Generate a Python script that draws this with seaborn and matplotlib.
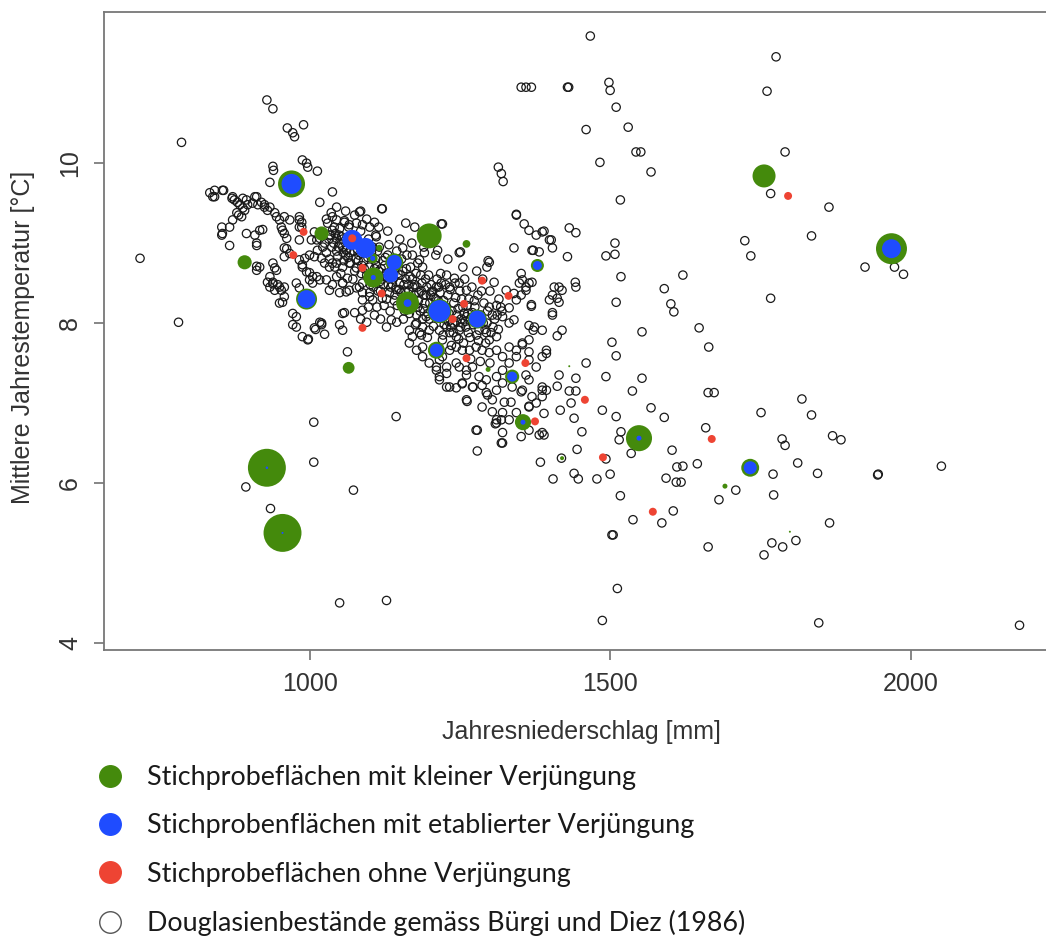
import numpy as np
import pandas as pd
import matplotlib
matplotlib.use("Agg")
import matplotlib.pyplot as plt
import seaborn as sns
from matplotlib.lines import Line2D

# ---------------- data ----------------
# Douglasienbestände (Niederschlag mm, Temperatur °C)
bestaende = [
    (787,10.26),(929,10.79),(939,10.68),(963,10.44),(972,10.38),(975,10.33),(990,10.48),
    (988,10.04),(995,10.00),(997,9.95),(1013,9.90),(939,9.96),(940,9.91),(934,9.76),(1038,9.64),(1017,9.51),
    (718,8.81),(782,8.01),
    (834,9.63),(842,9.66),(857,9.66),(839,9.58),(842,9.58),(855,9.66),
    (872,9.58),(875,9.54),(880,9.51),(889,9.56),(895,9.54),(884,9.48),(889,9.44),(892,9.41),(897,9.48),(905,9.50),
    (912,9.58),(920,9.51),(925,9.48),(914,9.48),(925,9.45),(930,9.41),(871,9.56),(909,9.58),
    (934,9.45),(942,9.38),(945,9.33),(950,9.29),(953,9.20),(955,9.16),(958,9.12),(962,9.06),
    (879,9.38),(887,9.33),(872,9.29),(867,9.20),(882,9.35),
    (895,9.12),(909,9.10),(854,9.20),(855,9.12),(867,8.97),(854,9.10),
    (912,8.97),(917,9.16),(922,9.17),(912,9.00),
    (958,9.33),(967,9.29),(983,9.33),(987,9.26),(983,9.20),(983,9.29),(987,9.20),
    (1008,9.14),(1012,9.04),(1003,9.04),(983,9.04),(1017,9.06),(1025,9.00),
    (962,8.93),(958,8.83),(958,8.94),(967,8.87),
    (939,8.75),(945,8.66),(934,8.58),(939,8.51),(947,8.48),(942,8.69),
    (912,8.66),(917,8.70),(912,8.71),
    (983,8.79),(988,8.70),(995,8.64),(1000,8.54),(1005,8.50),(1012,8.58),(1017,8.54),
    (992,8.81),(988,8.73),(1000,8.63),(1005,8.58),
    (1020,8.81),(1025,8.75),(1038,8.75),
    (930,8.51),(939,8.49),(934,8.45),(942,8.41),(950,8.45),(958,8.45),(978,8.50),(983,8.44),
    (953,8.41),(958,8.33),(955,8.26),(950,8.25),
    (972,8.12),(978,8.08),(972,7.98),(1017,8.01),(1020,7.98),(1008,7.94),(1055,8.12),
    (978,7.95),(988,7.83),(997,7.79),(998,7.80),(1010,7.92),(1020,8.00),(1025,7.86),
    (1000,8.85),(1008,8.83),(1013,8.91),(1022,8.95),(1028,8.88),
    (1033,9.10),(1038,9.16),(1045,9.06),(1050,9.00),(1055,8.95),(1061,8.91),
    (1038,9.33),(1045,9.29),(1058,9.26),(1066,9.23),(1078,9.25),(1088,9.23),(1100,9.20),(1108,9.26),
    (1111,9.08),(1116,8.95),
    (1033,8.70),(1045,8.75),(1055,8.70),(1066,8.75),(1078,8.69),
    (1028,8.54),(1045,8.58),(1055,8.50),(1063,8.56),
    (1033,8.41),(1050,8.38),(1061,8.39),(1078,8.44),(1088,8.38),(1100,8.33),
    (1083,9.39),(1085,9.40),(1120,9.43),(1121,9.43),(1219,9.24),(1221,9.24),(1251,8.89),
    (1030,9.25),(1035,9.10),(1040,9.00),(1045,8.90),(1033,8.80),(1050,9.18),(1055,9.05),(1048,8.95),
    (1060,8.85),(1042,8.70),(1052,8.62),(1028,9.30),(1036,9.38),(1058,9.28),
    (1065,9.20),(1070,9.10),(1078,8.98),(1082,8.85),(1090,8.78),(1068,8.75),(1075,8.65),(1095,8.60),
    (1100,8.70),(1085,9.15),(1098,9.05),(1062,8.92),(1072,8.55),(1088,8.50),(1105,8.95),(1110,9.10),
    (1110,8.80),(1115,8.65),(1120,8.55),(1125,8.72),(1130,8.85),(1135,8.45),(1140,8.62),(1145,8.90),
    (1150,8.50),(1118,8.40),(1128,8.30),(1142,8.35),(1106,8.45),(1132,8.98),(1148,8.75),(1155,8.65),(1112,8.20),
    (1160,8.55),(1165,8.40),(1170,8.30),(1175,8.48),(1180,8.20),(1185,8.60),(1190,8.35),(1195,8.45),
    (1200,8.25),(1158,8.15),(1168,8.70),(1178,8.10),(1188,8.05),(1198,8.60),(1205,8.40),(1162,8.85),(1180,8.75),
    (1210,8.30),(1215,8.45),(1220,8.20),(1225,8.05),(1230,8.35),(1235,7.95),(1240,8.25),(1245,8.10),
    (1250,8.40),(1255,8.20),(1260,7.95),(1212,8.55),(1228,8.60),(1242,8.50),(1258,8.55),(1265,8.30),
    (1270,8.45),(1222,7.85),(1248,7.80),
    (1275,8.20),(1280,8.35),(1285,8.10),(1290,8.25),(1295,8.00),(1300,8.40),(1305,7.95),(1315,8.30),
    (1320,8.15),(1288,8.55),(1278,8.65),(1295,8.70),
    (1045,9.45),(1060,9.40),(1075,9.35),(1095,9.30),(1115,9.20),(1130,9.15),(1150,9.05),(1170,9.00),
    (1190,8.95),(1210,8.85),(1230,8.80),(1255,8.70),(1175,9.20),(1160,9.25),
    (1155,8.94),(1171,8.85),(1183,8.79),(1191,8.88),(1188,8.70),(1213,8.91),(1249,8.88),(1297,8.78),
    (1241,8.56),(1249,8.50),(1261,8.41),(1233,8.45),(1219,8.50),(1211,8.45),(1203,8.39),
    (1032,9.05),(1037,8.95),(1043,9.12),(1047,8.83),(1053,9.08),(1057,8.78),(1063,9.02),(1067,8.88),
    (1073,9.05),(1077,8.80),(1080,8.92),(1087,8.72),(1092,8.95),(1097,8.82),(1102,8.58),(1103,8.88),
    (1108,8.68),(1113,8.90),(1117,8.52),(1122,8.78),(1127,8.62),(1131,8.48),(1137,8.70),(1139,8.55),
    (1144,8.42),(1147,8.62),(1152,8.38),(1153,8.80),(1157,8.48),(1161,8.68),(1163,8.32),(1167,8.58),
    (1172,8.45),(1173,8.22),(1177,8.62),(1182,8.38),(1184,8.15),(1187,8.50),(1192,8.25),(1193,8.55),
    (1197,8.12),(1202,8.48),(1204,8.18),(1207,8.32),(1213,8.08),(1217,8.38),(1218,8.62),(1223,8.28),
    (1226,8.48),(1232,8.12),(1234,8.42),(1238,8.00),(1243,8.32),(1247,8.18),(1252,8.05),(1253,8.30),
    (1257,8.12),(1262,8.22),(1264,7.88),(1268,8.05),(1272,7.98),(1274,8.28),(1278,7.85),(1283,8.02),
    (1286,8.40),(1292,7.92),(1296,8.15),(1302,7.88),(1308,8.05),(1314,7.92),(1318,8.20),(1124,8.22),
    (1134,8.15),(1146,8.22),(1156,8.05),(1166,8.12),(1176,7.98),(1186,7.85),(1196,7.82),(1206,7.96),
    (1236,7.72),(1256,7.75),(1268,7.55),(1284,7.52),(1300,7.50),
    (1041,9.20),(1049,9.10),(1056,8.88),(1064,8.82),(1069,8.98),(1074,8.90),(1081,8.78),(1086,8.62),
    (1091,8.68),(1096,8.90),(1101,8.48),(1107,8.58),(1111,8.72),(1114,8.40),(1119,8.68),(1123,8.48),
    (1126,8.82),(1129,8.58),(1133,8.38),(1138,8.48),(1141,8.28),(1143,8.72),(1149,8.42),(1151,8.60),
    (1154,8.28),(1159,8.40),(1164,8.48),(1169,8.20),(1171,8.55),(1174,8.35),(1179,8.45),(1181,8.28),
    (1186,8.40),(1189,8.18),(1194,8.35),(1199,8.05),(1201,8.35),(1206,8.10),(1209,8.22),(1214,8.28),
    (1219,8.12),(1224,7.98),(1227,8.20),(1231,8.02),(1237,8.15),(1239,7.88),(1244,8.02),(1251,7.95),
    (1259,8.02),(1263,8.12),(1267,7.82),(1273,8.08),(1281,7.78),(1289,8.00),(1293,7.75),(1304,8.10),
    (1098,8.20),(1108,8.10),(1118,8.05),(1128,7.95),(1085,8.05),
    (1038,8.48),(1055,8.50),(1066,8.41),(1083,8.45),(1100,8.38),(1088,8.29),(1105,8.29),(1121,8.31),
    (1058,8.13),(1075,8.13),(1088,8.16),(1095,8.01),(1136,8.04),(1145,8.01),
    (1166,7.91),(1171,7.83),(1183,7.88),(1178,8.00),(1188,7.95),(1194,8.08),(1199,7.91),
    (1216,7.91),(1228,7.95),(1233,7.88),(1244,7.83),(1221,7.79),(1249,7.91),(1254,8.00),(1261,8.08),
    (1271,8.13),(1282,7.91),(1294,7.88),(1299,7.79),(1311,7.83),(1321,8.08),(1332,8.00),
    (1244,7.70),(1254,7.66),(1266,7.66),(1277,7.70),(1287,7.66),(1299,7.63),(1311,7.66),(1321,7.58),
    (1332,7.70),(1344,7.66),(1354,7.75),(1365,7.79),
    (1216,7.54),(1228,7.45),(1244,7.50),(1261,7.41),(1271,7.45),(1282,7.33),(1294,7.29),(1311,7.33),
    (1321,7.41),(1332,7.50),(1344,7.58),(1365,7.54),(1377,7.45),(1387,7.58),
    (1233,7.20),(1254,7.25),(1271,7.20),(1294,7.13),(1311,7.16),(1321,7.25),(1337,7.20),(1354,7.16),
    (1365,7.29),(1387,7.20),
    (1261,7.04),(1287,6.95),(1304,6.89),(1321,6.88),(1311,6.79),(1332,6.79),(1344,6.88),(1365,6.95),
    (1377,7.00),(1387,7.08),(1394,7.16),
    (1277,6.66),(1311,6.75),(1321,6.63),(1365,6.66),(1387,6.63),(1321,6.50),
    (1050,7.98),(1055,7.91),(1166,7.75),(1178,7.66),(1188,7.70),(1221,7.58),(1233,7.66),(1188,7.58),
    (1199,7.50),(1211,7.41),(1216,7.33),(1228,7.20),(1216,7.29),
    (1394,7.66),(1404,8.13),(1399,8.29),(1369,8.23),(1387,7.91),
    (1349,8.50),(1360,8.41),(1370,8.51),(1344,8.29),(1332,8.19),
    (1467,11.59),(1352,10.95),(1360,10.95),(1369,10.95),(1429,10.95),(1431,10.95),(1498,11.01),
    (1500,10.91),(1510,10.70),(1530,10.45),(1460,10.42),(1543,10.14),(1551,10.14),(1483,10.01),
    (1568,9.89),(1314,9.95),(1319,9.87),(1322,9.77),(1517,9.54),
    (1344,9.36),(1357,9.24),(1365,9.16),(1377,9.10),(1390,9.15),(1399,9.04),(1404,8.94),(1340,8.94),
    (1372,8.91),(1429,8.83),(1432,9.19),(1443,9.13),(1493,8.84),(1508,8.86),(1508,9.00),(1299,8.76),
    (1518,8.58),(1590,8.43),(1601,8.24),(1606,8.14),(1510,8.26),(1404,8.10),(1369,8.21),
    (1344,9.35),(1387,9.14),(1402,9.04),(1382,8.89),(1370,8.91),(1404,8.35),(1407,8.45),
    (1442,8.51),(1443,8.45),(1415,8.45),(1420,8.41),(1412,8.31),(1415,8.26),
    (1352,8.62),(1354,8.54),(1365,8.50),(1360,8.45),
    (1307,8.51),(1327,8.41),(1340,8.37),(1352,8.35),
    (1299,8.20),(1311,8.22),(1312,8.10),(1340,8.04),(1365,7.97),(1374,7.95),
    (1776,11.33),(1761,10.90),(1791,10.14),(1767,9.62),(1864,9.45),(1724,9.03),(1734,8.84),(1835,9.09),
    (1924,8.70),(1973,8.70),(1988,8.61),(1767,8.31),(1621,8.60),(1648,7.94),
    (1664,7.70),(1663,7.13),(1673,7.13),(1659,6.69),(1751,6.88),(1819,7.05),(1835,6.85),(1870,6.59),
    (1884,6.54),(1786,6.55),(1791,6.47),(1812,6.25),(1845,6.12),(1771,6.11),(1772,5.85),(1709,5.91),
    (1681,5.79),(1645,6.24),(1621,6.21),(1618,6.01),(1945,6.10),(1946,6.11),(2051,6.21),(1865,5.50),
    (1769,5.25),(1787,5.20),(1809,5.28),(1756,5.10),(1663,5.20),(1847,4.25),(2181,4.22),
    (1063,7.64),(1073,5.91),(1144,6.83),(1050,4.50),(1128,4.53),(1512,4.68),(1487,4.28),(1503,5.35),
    (1505,5.35),(1538,5.54),(1586,5.50),(1605,5.65),(1517,5.84),(1593,6.06),(1610,6.01),(1611,6.20),
    (1603,6.41),(1493,6.30),(1500,6.11),(1478,6.05),(1447,6.05),(1440,6.12),(1405,6.05),(1384,6.26),
    (1535,6.37),(1515,6.54),(1518,6.64),(1445,6.42),(1453,6.64),(1440,6.81),(1419,6.31),(1590,6.82),
    (1568,6.94),(1537,7.15),(1553,7.31),
    (1553,7.89),(1503,7.76),(1510,7.59),(1493,7.33),(1460,7.50),(1443,7.31),(1415,7.35),(1412,7.21),
    (1432,7.15),(1443,7.15),(1435,7.00),(1417,6.91),(1390,6.87),(1390,6.60),(1365,6.96),(1370,7.08),
    (1387,7.16),(1354,7.73),(1365,7.64),(1372,7.91),(1420,7.91),(1412,7.84),(1394,7.62),(1360,7.35),
    (1352,7.14),(1335,7.01),(1324,7.01),
    (1319,6.79),(1309,6.74),(1279,6.66),(1279,6.40),(1319,6.50),(1352,6.58),(1382,6.60),(1304,7.04),
    (1296,7.10),(1262,7.02),(1287,7.22),(1272,7.20),(1254,7.24),(1244,7.19),(1261,7.35),(1249,7.45),
    (1228,7.37),(1211,7.45),(1487,6.91),(1510,6.83),
    (1007,6.76),(1007,6.26),(894,5.95),(935,5.68),
]

# Stichprobeflächen mit kleiner Verjüngung (mm, °C, Menge)
kleine_verj = [
    (929,6.19,144),(955,5.375,144),(1968,8.93,96),(970,9.74,73),(1548,6.56,68),(1199,9.09,62),
    (1756,9.84,53),(1163,8.25,53),(1216,8.15,58),(995,8.30,44),(1106,8.57,40),(1279,8.05,36),
    (1733,6.19,32),(1141,8.76,32),(1211,7.66,29),(1355,6.76,26),(892,8.76,20),(1020,9.12,20),
    (1337,7.33,20),(1379,8.72,17),(1065,7.44,14),(1105,8.81,10),(1261,8.99,6),(1116,8.94,4),
    (1297,7.42,2.5),(1691,5.96,2.5),(1420,6.31,1.6),(1432,7.46,0.4),(1799,5.39,0.4),
]

# Stichprobenflächen mit etablierter Verjüngung (mm, °C, Menge)
etablierte_verj = [
    (970,9.74,40),(1968,8.93,36),(995,8.30,32),(1071,9.04,40),(1093,8.94,40),(1141,8.76,22),
    (1135,8.60,22),(1216,8.15,48),(1279,8.05,29),(1379,8.72,8),(1211,7.66,17),(1337,7.33,10),
    (1733,6.19,17),(929,6.19,0.6),(955,5.375,0.4),(1548,6.56,2.5),(1355,6.76,2.5),(1106,8.57,2.5),
    (1163,8.25,6),(1105,8.81,2.5),
]

# Stichprobeflächen ohne Verjüngung (mm, °C)
ohne_verj = [
    (990,9.14),(973,8.85),(1071,9.06),(1088,8.69),(1120,8.37),(1287,8.53),(1331,8.34),(1257,8.24),
    (1238,8.05),(1088,7.94),(1261,7.56),(1359,7.50),(1375,6.77),(1458,7.04),(1488,6.32),(1571,5.64),
    (1669,6.55),(1796,9.59),
]

legend_labels = [
    "Stichprobeflächen mit kleiner Verjüngung",
    "Stichprobenflächen mit etablierter Verjüngung",
    "Stichprobeflächen ohne Verjüngung",
    "Douglasienbestände gemäss Bürgi und Diez (1986)",
]
x_ticks = [1000, 1500, 2000]
y_ticks = [4, 6, 8, 10]
x_label = "Jahresniederschlag [mm]"
y_label = "Mittlere Jahrestemperatur [°C]"

# ---------------- styling ----------------
GREEN = "#448a0c"
BLUE = "#1f4cff"
RED = "#ee4433"

sns.set_theme(style="ticks")
plt.rcParams["font.family"] = ["Liberation Sans", "DejaVu Sans"]

df_b = pd.DataFrame(bestaende, columns=["mm", "temp"])
df_g = pd.DataFrame(kleine_verj, columns=["mm", "temp", "menge"])
df_e = pd.DataFrame(etablierte_verj, columns=["mm", "temp", "menge"])
df_o = pd.DataFrame(ohne_verj, columns=["mm", "temp"])

fig = plt.figure(figsize=(10.46, 9.41), dpi=100)
ax = fig.add_axes([0.0994, 0.3092, 0.9092, 0.6780])

sns.scatterplot(data=df_b, x="mm", y="temp", ax=ax, s=36, marker="o",
                facecolor="none", edgecolor="#1a1a1a", linewidth=0.9, legend=False, zorder=2)
sns.scatterplot(data=df_g, x="mm", y="temp", size="menge", sizes=(0, 746), size_norm=(0, 144),
                color=GREEN, edgecolor="none", linewidth=0, ax=ax, legend=False, zorder=3)
sns.scatterplot(data=df_e, x="mm", y="temp", size="menge", sizes=(0, 746), size_norm=(0, 144),
                color=BLUE, edgecolor="none", linewidth=0, ax=ax, legend=False, zorder=4)
sns.scatterplot(data=df_o, x="mm", y="temp", s=33, color=RED, edgecolor="none", linewidth=0,
                ax=ax, legend=False, zorder=5)

ax.set_xlim(658, 2240)
ax.set_ylim(3.91, 11.89)
ax.set_xticks(x_ticks)
ax.set_yticks(y_ticks)
ax.tick_params(axis="both", length=7.2, width=1.1, color="#666666", labelsize=18,
               labelcolor="#333333", direction="out", bottom=True, left=True)
ax.tick_params(axis="x", pad=8.5)
ax.tick_params(axis="y", pad=8.5)
for lab in ax.get_yticklabels():
    lab.set_rotation(90)
    lab.set_va("center")
for sp in ax.spines.values():
    sp.set_color("#777777")
    sp.set_linewidth(1.3)

ax.set_xlabel(x_label, fontsize=18, color="#333333")
ax.set_ylabel(y_label, fontsize=18, color="#333333")
ax.xaxis.label.set_va("center")
ax.yaxis.label.set_va("center")
ax.xaxis.set_label_coords(0.5016, -0.1285)
ax.yaxis.set_label_coords(-0.0852, 0.4906)

handles = [
    Line2D([], [], linestyle="", marker="o", markersize=15.5, markerfacecolor=GREEN, markeredgecolor=GREEN),
    Line2D([], [], linestyle="", marker="o", markersize=15.5, markerfacecolor=BLUE, markeredgecolor=BLUE),
    Line2D([], [], linestyle="", marker="o", markersize=15.5, markerfacecolor=RED, markeredgecolor=RED),
    Line2D([], [], linestyle="", marker="o", markersize=15.5, markerfacecolor="white",
           markeredgecolor="#555555", markeredgewidth=1.0),
]
fig.legend(handles, legend_labels, loc="upper left", bbox_to_anchor=(99 / 1046, 1 - 765 / 941),
           bbox_transform=fig.transFigure, frameon=False,
           prop={"family": ["Lato", "DejaVu Sans"], "size": 19.4},
           handlelength=0.82, handletextpad=0.95, labelspacing=0.87,
           borderpad=0, borderaxespad=0, labelcolor="#1a1a1a")

fig.savefig("out.png", dpi=100)
